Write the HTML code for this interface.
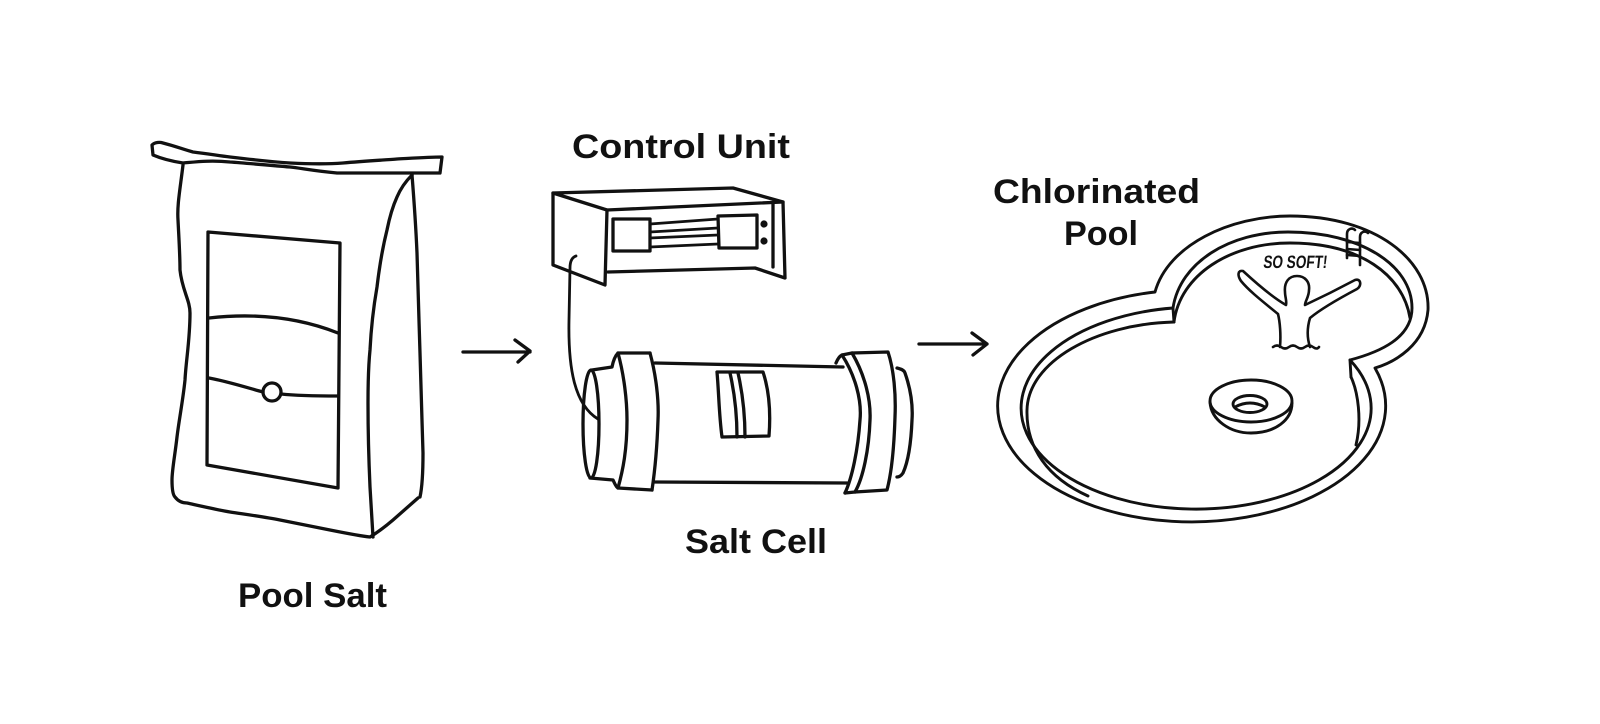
<!DOCTYPE html>
<html>
<head>
<meta charset="utf-8">
<style>
  html,body{margin:0;padding:0;background:#fff;}
  svg{display:block;}
  .t{font-family:"Liberation Sans","DejaVu Sans",sans-serif;font-weight:bold;fill:#111;}
</style>
</head>
<body>
<svg width="1600" height="724" viewBox="0 0 1600 724" xmlns="http://www.w3.org/2000/svg">
  <rect width="1600" height="724" fill="#fff"/>
  <g fill="none" stroke="#111" stroke-width="3.3" stroke-linejoin="round" stroke-linecap="round">

    <!-- ===== BAG ===== -->
    <path d="M152,145 C155,142 160,142 163,143 C175,146 185,150 193,152 C210,154 220,156 230,157 C255,160 275,162 290,163 C310,164 330,164 343,163 C365,161 385,160 397,159 C415,158 430,157 442,157 L440,173 C420,173 380,173 337,173 C315,171 300,168 290,167 C265,165 245,163 230,162 C210,160 195,162 183,163 C170,161 160,158 153,155 Z"/>
    <path d="M183,165 C180,190 177,205 178,220 C179,240 180,255 180,270 C182,290 190,300 190,313 C190,340 186,360 185,380 C183,400 179,420 177,437 C175,455 172,470 172,480 C172,490 173,495 175,497 C178,501 182,503 187,503 C205,507 218,510 230,512 C250,515 265,517 280,520 C300,524 315,527 330,530 C345,533 360,536 370,537 C378,532 386,526 393,520 C402,512 410,505 418,498"/>
    <path d="M412,175 C414,200 416,230 417,253 C418,290 419,320 420,353 C421,390 422,420 423,453 C423,475 422,488 420,497"/>
    <path d="M412,175 C405,182 400,190 397,197 C392,208 389,220 387,230 C382,250 379,270 377,287 C373,310 371,330 370,350 C368,370 368,390 368,403 C368,440 369,465 370,487 C371,505 372,522 373,537"/>
    <path d="M208,232 L340,243 L338,488 L207,465 Z"/>
    <path d="M209,318 Q 280,310 338,333"/>
    <path d="M209,378 C230,382 248,388 263,392"/>
    <circle cx="272" cy="392" r="9"/>
    <path d="M281,394 C300,396 320,396 338,396"/>

    <!-- ===== ARROWS ===== -->
    <path d="M463,352 L530,352 M515,340 L530,351 L518,362"/>
    <path d="M919,344 L987,344 M972,333 L987,344 L973,355"/>

    <!-- ===== CONTROL UNIT ===== -->
    <path d="M553,193 L733,188 L783,202 L607,210 Z"/>
    <path d="M553,193 L553,265 L605,285 L607,210"/>
    <path d="M773,203 L773,267"/>
    <path d="M783,202 L785,278 L755,268 L608,272"/>
    <rect x="613" y="219" width="37" height="32"/>
    <path d="M718,216 L757,215 L757,248 L719,248 Z"/>
    <g stroke-width="2.7">
      <path d="M650,224 L718,219"/>
      <path d="M650,232 L718,228"/>
      <path d="M650,238 L718,235"/>
      <path d="M650,247 L718,244"/>
    </g>
    <circle cx="764" cy="224" r="3.6" fill="#111" stroke="none"/>
    <circle cx="764" cy="241" r="3.6" fill="#111" stroke="none"/>
    <path d="M576,256 Q570,258 570,268 L569,320 C568,370 575,405 598,419" stroke-width="2.8"/>

    <!-- ===== SALT CELL ===== -->
    <ellipse cx="591" cy="424" rx="8" ry="54"/>
    <path d="M592,370 L612,367 C613,362 615,356 618,353 L650,353"/>
    <path d="M590,478 L613,480 C615,484 616,487 618,488 L652,490"/>
    <path d="M618,353 C624,375 627,400 627,420 C627,450 623,470 618,488"/>
    <path d="M650,353 C656,375 659,400 658,420 C657,450 655,470 652,490"/>
    <path d="M655,363 L843,367"/>
    <path d="M655,482 L847,483"/>
    <path d="M717,372 L763,372 C769,390 771,410 769,436 L722,437 C719,415 719,395 717,372 Z"/>
    <path d="M730,373 C735,395 737,415 737,437"/>
    <path d="M738,373 C743,395 745,415 745,437"/>
    <path d="M836,363 C838,358 840,356 842,355 C855,375 862,400 860,420 C858,450 852,478 845,493"/>
    <path d="M852,353 C865,375 871,400 870,420 C869,450 863,478 855,492"/>
    <path d="M842,355 L852,353 L888,352 C894,370 896,395 895,417 C894,450 891,475 887,490 L855,492 L845,493"/>
    <path d="M897,368 C901,369 904,370 905,373 C911,390 913,405 912,420 C911,445 908,462 903,473 C901,476 899,477 897,477"/>

    <!-- ===== POOL ===== -->
    <g stroke-width="2.9">
      <path d="M1155,292 A194 116 0 1 0 1375,368 C1395,362 1425,345 1428,310 C1430,260 1375,216 1290,216 C1230,216 1168,245 1155,292 Z"/>
      <path d="M1173,308 A175 101 0 1 0 1350,360 C1380,352 1412,338 1412,308 C1412,265 1360,232 1288,232 C1230,232 1180,262 1173,308 Z"/>
      <path d="M1173,308 L1174,322"/>
      <path d="M1350,360 L1351,377"/>
      <path d="M1174,322 C1095,324 1028,362 1027,410 C1026,448 1048,478 1088,496"/>
      <path d="M1174,322 C1180,275 1230,243 1290,243 C1360,243 1403,275 1410,318"/>
      <path d="M1351,377 C1358,392 1362,420 1356,445"/>
    </g>

    <g stroke-width="2.9">
      <ellipse cx="1251" cy="401" rx="41" ry="21"/>
      <path d="M1210,402 C1211,420 1230,433 1251,433 C1275,433 1292,420 1292,403"/>
      <ellipse cx="1250" cy="404" rx="17" ry="8.5"/>
      <path d="M1235,407 Q1250,399 1265,407"/>
    </g>

    <g stroke-width="2.6">
      <path d="M1347,258 L1347,234 C1347,229 1352,227 1355,230"/>
      <path d="M1360,265 L1360,237 C1360,232 1365,230 1368,233"/>
      <path d="M1347,242 L1360,243 M1347,249 L1360,250 M1347,255 L1360,256"/>
    </g>

    <g stroke-width="2.6">
      <path d="M1280,347 C1281,335 1280,322 1278,314 C1266,304 1250,292 1241,281 C1237,275 1238,270 1243,271 C1256,283 1272,297 1286,305 C1287,301 1285,297 1285,292 C1284,282 1289,276 1297,276 C1305,276 1310,282 1309,290 C1309,297 1305,301 1305,305 C1320,298 1340,288 1355,280 C1361,278 1362,286 1357,289 C1340,298 1322,308 1310,318 C1307,328 1307,338 1310,347"/>
      <path d="M1273,347 q4,-3 8,0 t8,0 t8,0 t8,0 t8,0 t6,0"/>
    </g>
  </g>

  <!-- ===== TEXT ===== -->
  <text class="t" x="572" y="158" font-size="34" textLength="218" lengthAdjust="spacingAndGlyphs">Control Unit</text>
  <text class="t" x="993" y="203" font-size="34" textLength="207" lengthAdjust="spacingAndGlyphs">Chlorinated</text>
  <text class="t" x="1064" y="245" font-size="34" textLength="74" lengthAdjust="spacingAndGlyphs">Pool</text>
  <text class="t" x="238" y="607" font-size="34" textLength="149" lengthAdjust="spacingAndGlyphs">Pool Salt</text>
  <text class="t" x="685" y="553" font-size="34" textLength="142" lengthAdjust="spacingAndGlyphs">Salt Cell</text>
  <text x="1263" y="268" font-family="'Liberation Sans Narrow','Liberation Sans',sans-serif" font-weight="bold" font-size="18" fill="#111" textLength="64" lengthAdjust="spacingAndGlyphs" transform="skewX(-6) translate(28,0)">SO SOFT!</text>
</svg>
</body>
</html>
